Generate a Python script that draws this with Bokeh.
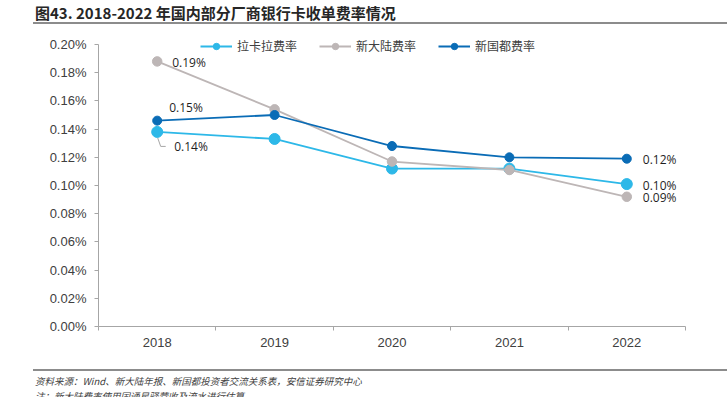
from bokeh.plotting import figure
from bokeh.models import (Range1d, FixedTicker, Legend, LegendItem, ColumnDataSource, Div)
from bokeh.layouts import column
from bokeh.core.properties import value
from bokeh.embed import file_html
from bokeh.resources import INLINE

# ---- data ----
years = ["2018", "2019", "2020", "2021", "2022"]
lakala = [0.138, 0.133, 0.112, 0.112, 0.101]     # 拉卡拉费率 (%)
newland = [0.188, 0.154, 0.117, 0.111, 0.092]    # 新大陆费率 (%)
xgd = [0.146, 0.150, 0.128, 0.120, 0.119]        # 新国都费率 (%)
y_ticks = [0.00, 0.02, 0.04, 0.06, 0.08, 0.10, 0.12, 0.14, 0.16, 0.18, 0.20]
y_tick_labels = ["0.00%", "0.02%", "0.04%", "0.06%", "0.08%", "0.10%",
                 "0.12%", "0.14%", "0.16%", "0.18%", "0.20%"]
series_names = ["拉卡拉费率", "新大陆费率", "新国都费率"]
title_text = "图43. 2018-2022 年国内部分厂商银行卡收单费率情况"
source_text = "资料来源：Wind、新大陆年报、新国都投资者交流关系表，安信证券研究中心"
note_text = "注：新大陆费率使用国通星驿营收及流水进行估算"

C_LIGHT = "#2DB8E8"
C_GRAY = "#BDB6B6"
C_DARK = "#0A6CB6"

W = 727
TOP_H = 30          # title block height
BOT_H = 30          # footnote block height
FIG_H = 397 - TOP_H - BOT_H
FL, FR = 98, 685                    # frame left/right (px)
FT, FB = 34 - TOP_H, 326 - TOP_H    # frame top/bottom inside figure
Y_MAX_PX = 44 - TOP_H               # pixel row of the top tick
y_top = y_ticks[0] + (y_ticks[-1] - y_ticks[0]) * (FB - FT) / (FB - Y_MAX_PX)

xs = [i + 0.5 for i in range(len(years))]

p = figure(width=W, height=FIG_H, output_backend="svg", toolbar_location=None,
           x_range=Range1d(0, len(years)), y_range=Range1d(y_ticks[0], y_top),
           min_border_left=FL, min_border_right=W - FR, min_border_top=FT,
           min_border_bottom=FIG_H - FB, title=None)
p.outline_line_color = None
p.xgrid.visible = False
p.ygrid.visible = False
p.background_fill_color = "white"
p.border_fill_color = "white"

# axes
AX = "#A6A6A6"
xa = p.xaxis[0]
xa.ticker = FixedTicker(ticks=xs, minor_ticks=list(range(len(years) + 1)))
xa.major_label_overrides = {x: y for x, y in zip(xs, years)}
xa.major_tick_line_color = None
xa.minor_tick_line_color = AX
xa.minor_tick_out = 4
xa.minor_tick_in = 0
xa.axis_line_color = AX
xa.major_label_text_font = "Liberation Sans"
xa.major_label_text_font_size = "13px"
xa.major_label_text_color = "#404040"
xa.major_label_standoff = 5

ya = p.yaxis[0]
ya.ticker = FixedTicker(ticks=y_ticks, minor_ticks=[])
ya.bounds = (y_ticks[0], y_ticks[-1])
ya.major_label_overrides = {t: l for t, l in zip(y_ticks, y_tick_labels)}
ya.major_tick_line_color = AX
ya.major_tick_out = 4
ya.major_tick_in = 0
ya.minor_tick_line_color = None
ya.axis_line_color = AX
ya.major_label_text_font = "Liberation Sans"
ya.major_label_text_font_size = "13px"
ya.major_label_text_color = "#404040"
ya.major_label_standoff = 8

# series
renderers = {}
specs = [(lakala, C_LIGHT, 11), (newland, C_GRAY, 9.5), (xgd, C_DARK, 9)]
for i in [0, 1, 2]:
    vals, col, sz = specs[i]
    src = ColumnDataSource(dict(x=xs, y=vals))
    lr = p.line("x", "y", source=src, line_color=col, line_width=1.8)
    sr = p.scatter("x", "y", source=src, size=sz, fill_color=col, line_color=col)
    renderers[i] = [lr, sr]

legend = Legend(items=[LegendItem(label=series_names[i], renderers=renderers[i]) for i in range(3)],
                orientation="horizontal", location=(102, 272), padding=0, margin=0,
                spacing=22, glyph_width=32, glyph_height=16, label_height=16,
                label_standoff=5, border_line_color=None, background_fill_alpha=0,
                label_text_font="Noto Sans CJK SC", label_text_font_size="12px",
                label_text_color="#404040")
p.add_layout(legend, "center")

# data labels
lab = dict(x=[xs[0], xs[0], xs[0], xs[4], xs[4], xs[4]],
           y=[newland[0], xgd[0], lakala[0], xgd[4], lakala[4], newland[4]],
           t=["0.19%", "0.15%", "0.14%", "0.12%", "0.10%", "0.09%"],
           dx=[15, 12, 17, 16, 16, 16], dy=[1, -13, 15, 1, 1, 1])
p.text("x", "y", text="t", source=ColumnDataSource(lab), x_offset="dx", y_offset="dy",
       text_font=value("Open Sans"), text_font_size="12px", text_color="#1F1F1F",
       text_baseline="middle", text_align="left")

# leader line for 0.14%
pxx = len(years) / (FR - FL)
pxy = (y_top - y_ticks[0]) / (FB - FT)
lx = [xs[0] + d * pxx for d in (0.5, 3.5, 8.5)]
ly = [lakala[0] - d * pxy for d in (6, 14.5, 14.5)]
p.line(lx, ly, line_color="#A6A6A6", line_width=1)

# title block and footnotes
FONT = "'Noto Sans CJK SC', 'Noto Sans CJK JP', sans-serif"
title_html = (
    f'<div style="position:relative;width:{W}px;height:{TOP_H}px;overflow:hidden;">'
    f'<div style="position:absolute;left:33px;top:0;width:{W - 33}px;height:24px;'
    f'border-bottom:2px solid #8C8C8C;"></div>'
    f'<span style="position:absolute;left:35px;top:3px;font-family:{FONT};font-weight:bold;'
    f'font-size:15px;line-height:20px;color:#262626;white-space:nowrap;">{title_text}</span>'
    f'</div>')
foot_html = (
    f'<div style="position:relative;width:{W}px;height:{BOT_H}px;overflow:hidden;">'
    f'<div style="position:absolute;left:33px;top:2px;width:{W - 33}px;height:0;'
    f'border-top:2px solid #8C8C8C;"></div>'
    f'<span style="position:absolute;left:35px;top:8px;font-family:{FONT};font-style:italic;'
    f'font-size:9.5px;line-height:12px;color:#404040;white-space:nowrap;">{source_text}</span>'
    f'<span style="position:absolute;left:35px;top:23px;font-family:{FONT};font-style:italic;'
    f'font-size:9.5px;line-height:12px;color:#404040;white-space:nowrap;">{note_text}</span>'
    f'</div>')
top_div = Div(text=title_html, width=W, height=TOP_H, styles={"margin": "0", "padding": "0"})
bot_div = Div(text=foot_html, width=W, height=BOT_H, styles={"margin": "0", "padding": "0"})

layout = column(top_div, p, bot_div, spacing=0)
open("out.html", "w").write(file_html(layout, INLINE))
